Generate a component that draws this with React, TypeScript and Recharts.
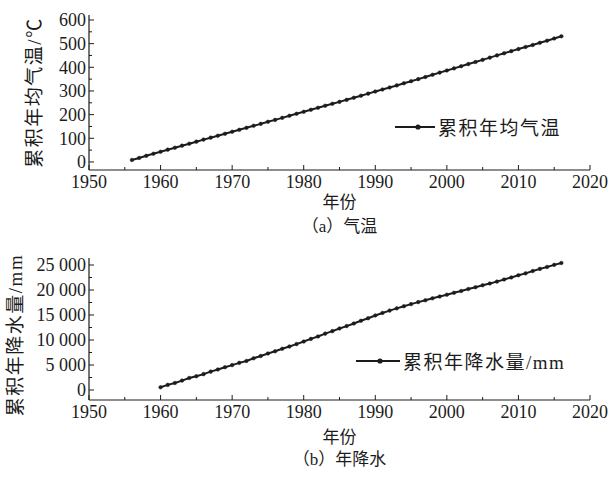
import React from 'react';
import { LineChart, Line, XAxis, YAxis, Legend, Label } from 'recharts';

// (a) cumulative annual mean temperature, °C
const tempYears = [
  1956, 1957, 1958, 1959, 1960, 1961, 1962, 1963, 1964, 1965, 1966, 1967, 1968, 1969, 1970,
  1971, 1972, 1973, 1974, 1975, 1976, 1977, 1978, 1979, 1980, 1981, 1982, 1983, 1984, 1985,
  1986, 1987, 1988, 1989, 1990, 1991, 1992, 1993, 1994, 1995, 1996, 1997, 1998, 1999, 2000,
  2001, 2002, 2003, 2004, 2005, 2006, 2007, 2008, 2009, 2010, 2011, 2012, 2013, 2014, 2015, 2016,
];
const tempCum = [
  8.4, 17.0, 25.9, 34.7, 43.2, 51.9, 60.2, 68.8, 77.0, 85.7, 94.5, 102.6, 110.9, 119.1, 127.5,
  135.8, 144.2, 152.8, 161.0, 169.7, 177.8, 186.4, 195.1, 203.6, 211.9, 220.4, 229.0, 237.5, 245.7, 254.0,
  262.5, 271.3, 280.0, 288.6, 297.6, 306.2, 314.7, 323.4, 332.5, 341.3, 349.9, 358.9, 368.3, 377.5, 386.4,
  395.5, 404.7, 413.6, 422.6, 431.5, 440.8, 450.2, 459.1, 468.2, 477.0, 485.7, 494.3, 503.5, 512.5, 521.8, 530.9,
];

// (b) cumulative annual precipitation, mm
const precYears = [
  1960, 1961, 1962, 1963, 1964, 1965, 1966, 1967, 1968, 1969, 1970,
  1971, 1972, 1973, 1974, 1975, 1976, 1977, 1978, 1979, 1980, 1981, 1982, 1983, 1984, 1985,
  1986, 1987, 1988, 1989, 1990, 1991, 1992, 1993, 1994, 1995, 1996, 1997, 1998, 1999, 2000,
  2001, 2002, 2003, 2004, 2005, 2006, 2007, 2008, 2009, 2010, 2011, 2012, 2013, 2014, 2015, 2016,
];
const precCum = [
  540, 1020, 1410, 1880, 2400, 2760, 3170, 3670, 4100, 4560, 4980,
  5430, 5810, 6340, 6810, 7300, 7740, 8240, 8700, 9180, 9690, 10220, 10710, 11270, 11770, 12310,
  12780, 13300, 13850, 14350, 14910, 15410, 15880, 16330, 16760, 17180, 17580, 17950, 18340, 18690, 19060,
  19440, 19790, 20190, 20550, 20940, 21300, 21680, 22100, 22510, 22950, 23330, 23790, 24220, 24610, 25030, 25410,
];

const xTicks = [1950, 1955, 1960, 1965, 1970, 1975, 1980, 1985, 1990, 1995, 2000, 2005, 2010, 2015, 2020];
const xMajor = [1950, 1960, 1970, 1980, 1990, 2000, 2010, 2020];
const tempTicks = [0, 50, 100, 150, 200, 250, 300, 350, 400, 450, 500, 550, 600];
const tempMajor = [0, 100, 200, 300, 400, 500, 600];
const precTicks = [0, 2500, 5000, 7500, 10000, 12500, 15000, 17500, 20000, 22500, 25000];
const precMajor = [0, 5000, 10000, 15000, 20000, 25000];

const tempLabel = '累积年均气温/℃';
const tempLegend = '累积年均气温';
const precLabel = '累积年降水量/mm';
const precLegend = '累积年降水量/mm';
const xLabel = '年份';
const subA = '（a）气温';
const subB = '（b）年降水';

const tempData = tempYears.map((y, i) => ({ year: y, v: tempCum[i] }));
const precData = precYears.map((y, i) => ({ year: y, v: precCum[i] }));

const SERIF = '"Liberation Serif", "Noto Sans CJK SC", serif';
const INK = '#1c1c1c';

const fmtThousands = (v: number) => {
  if (v < 1000) return String(v);
  const s = String(v);
  return s.slice(0, s.length - 3) + ' ' + s.slice(s.length - 3);
};

const makeXTick = (major: number[]) => (props: any) => {
  const { x, y, payload } = props;
  const isMajor = major.includes(payload.value);
  const axisY = y - 8;
  return (
    <g>
      <line x1={x} x2={x} y1={axisY} y2={axisY - (isMajor ? 5 : 3)} stroke={INK} strokeWidth={1} />
      {isMajor && (
        <text x={x} y={axisY + 4} dy="0.76em" textAnchor="middle" fontSize={18} fill={INK} fontFamily={SERIF}>
          {payload.value}
        </text>
      )}
    </g>
  );
};

const makeYTick = (major: number[]) => (props: any) => {
  const { x, y, payload } = props;
  const isMajor = major.includes(payload.value);
  const axisX = x + 8;
  return (
    <g>
      <line x1={axisX} x2={axisX + (isMajor ? 5 : 3)} y1={y} y2={y} stroke={INK} strokeWidth={1} />
      {isMajor && (
        <text x={axisX - 3} y={y} dy="0.36em" textAnchor="end" fontSize={18} fill={INK} fontFamily={SERIF}>
          {fmtThousands(payload.value)}
        </text>
      )}
    </g>
  );
};

const makeYLabel = (text: string, cx: number, dyCenter: number) => (props: any) => {
  const vb = props.viewBox || {};
  const cy = (vb.y || 0) + (vb.height || 0) / 2 + dyCenter;
  return (
    <text
      transform={`translate(${cx}, ${cy}) rotate(-90)`}
      textAnchor="middle"
      dominantBaseline="central"
      fontSize={19}
      letterSpacing={1.5}
      fill={INK}
      fontFamily={SERIF}
    >
      {text}
    </text>
  );
};

const makeLegend = (text: string, lineW: number, dotAt: number) => () => (
  <div style={{ display: 'flex', alignItems: 'center', fontFamily: SERIF, color: INK, whiteSpace: 'nowrap' }}>
    <svg width={lineW} height={20} style={{ display: 'block' }}>
      <line x1={0} x2={lineW} y1={10} y2={10} stroke={INK} strokeWidth={2} />
      <circle cx={dotAt} cy={10} r={2.6} fill={INK} />
    </svg>
    <span style={{ fontSize: 19, letterSpacing: 1.5, marginLeft: 3 }}>{text}</span>
  </div>
);

const dotStyle = { r: 1.8, fill: INK, stroke: INK, strokeWidth: 0.5 };

export default function App() {
  return (
    <div style={{ position: 'absolute', left: 0, top: 0, width: 611, height: 481, background: '#fff' }}>
      <div style={{ position: 'absolute', left: 0, top: 0 }}>
        <LineChart width={611} height={240} data={tempData} margin={{ top: 15, right: 21, left: 0, bottom: 0 }}>
          <XAxis
            dataKey="year"
            type="number"
            domain={[1950, 2020]}
            ticks={xTicks}
            interval={0}
            height={70}
            tickLine={false}
            tickSize={6}
            tickMargin={2}
            axisLine={{ stroke: INK, strokeWidth: 1.2 }}
            tick={makeXTick(xMajor)}
            allowDataOverflow
          >
            <Label value={xLabel} position="insideTop" offset={26} fontSize={17} fill={INK} fontFamily={SERIF} />
            <Label value={subA} position="insideTop" offset={50} fontSize={17} fill={INK} fontFamily={SERIF} />
          </XAxis>
          <YAxis
            type="number"
            domain={[-34, 621]}
            ticks={tempTicks}
            interval={0}
            width={89}
            tickLine={false}
            tickSize={6}
            tickMargin={2}
            axisLine={{ stroke: INK, strokeWidth: 1.2 }}
            tick={makeYTick(tempMajor)}
            allowDataOverflow
            label={{ content: makeYLabel(tempLabel, 34, 0) } as any}
          />
          <Legend
            layout="vertical"
            align="center"
            verticalAlign="middle"
            wrapperStyle={{ left: 395, top: 113, width: 'auto' }}
            content={makeLegend(tempLegend, 40, 23)}
          />
          <Line
            dataKey="v"
            name={tempLegend}
            stroke={INK}
            strokeWidth={2}
            dot={dotStyle}
            isAnimationActive={false}
          />
        </LineChart>
      </div>
      <div style={{ position: 'absolute', left: 0, top: 240 }}>
        <LineChart width={611} height={241} data={precData} margin={{ top: 18, right: 21, left: 0, bottom: 0 }}>
          <XAxis
            dataKey="year"
            type="number"
            domain={[1950, 2020]}
            ticks={xTicks}
            interval={0}
            height={81}
            tickLine={false}
            tickSize={6}
            tickMargin={2}
            axisLine={{ stroke: INK, strokeWidth: 1.2 }}
            tick={makeXTick(xMajor)}
            allowDataOverflow
          >
            <Label value={xLabel} position="insideTop" offset={31} fontSize={17} fill={INK} fontFamily={SERIF} />
            <Label value={subB} position="insideTop" offset={53} fontSize={17} fill={INK} fontFamily={SERIF} />
          </XAxis>
          <YAxis
            type="number"
            domain={[-2000, 26400]}
            ticks={precTicks}
            interval={0}
            width={89}
            tickLine={false}
            tickSize={6}
            tickMargin={2}
            axisLine={{ stroke: INK, strokeWidth: 1.2 }}
            tick={makeYTick(precMajor)}
            allowDataOverflow
            label={{ content: makeYLabel(precLabel, 15, 6) } as any}
          />
          <Legend
            layout="vertical"
            align="center"
            verticalAlign="middle"
            wrapperStyle={{ left: 356, top: 107, width: 'auto' }}
            content={makeLegend(precLegend, 44, 24)}
          />
          <Line
            dataKey="v"
            name={precLegend}
            stroke={INK}
            strokeWidth={2}
            dot={dotStyle}
            isAnimationActive={false}
          />
        </LineChart>
      </div>
    </div>
  );
}
